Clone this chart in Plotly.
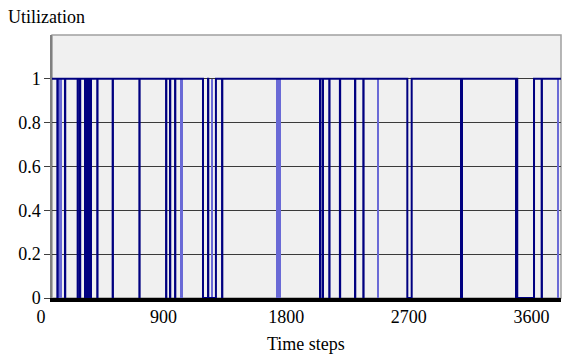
import plotly.graph_objects as go

# ---- data (time steps) ----
t_start, t_end = 81, 3817                      # visible span of the series
x_ticks = [0, 900, 1800, 2700, 3600]
y_ticks = [0, 0.2, 0.4, 0.6, 0.8, 1]
y_ticktext = ["0", "0.2", "0.4", "0.6", "0.8", "1"]

# brief drops of utilization to 0 (start time, 2 steps long)
brief_drops = [120, 176, 269, 286, 413, 526, 722, 918, 947, 984, 1329,
               2048, 2068, 2116, 2194, 2305, 2366, 3675]
drop_len = 2
# longer stretches at 0 (start, end)
zero_spans = [(1189, 1226), (1228, 1284), (2689, 2721), (3496, 3619)]
# dense bursts of switching (start, end)
burst_spans = [(318, 377), (3076, 3100), (3479, 3496)]
# faint (light) switching traces (start, end)
light_spans = [(125, 152), (1020, 1040), (1250, 1260), (1727, 1765),
               (2472, 2482), (3614, 3624), (3792, 3802)]

# ---- build step series ----
intervals = sorted([(t, t + drop_len) for t in brief_drops] + zero_spans)
xs, ys = [t_start], [1]
for s, e in intervals:
    xs += [s, e]
    ys += [0, 1]
xs.append(t_end)
ys.append(1)

NAVY = "#000080"
LIGHT = "#6a6ad6"
FONT = "Liberation Serif, Times New Roman, serif"
FS = 18

fig = go.Figure()

fig.add_trace(go.Bar(
    x=[(a + b) / 2 for a, b in light_spans],
    width=[b - a for a, b in light_spans],
    y=[1] * len(light_spans), base=0,
    marker=dict(color=LIGHT, line=dict(width=0)),
    hoverinfo="skip", showlegend=False))

fig.add_trace(go.Bar(
    x=[(a + b) / 2 for a, b in burst_spans],
    width=[b - a for a, b in burst_spans],
    y=[1] * len(burst_spans), base=0,
    marker=dict(color=NAVY, line=dict(width=0)),
    hoverinfo="skip", showlegend=False))

fig.add_trace(go.Scatter(
    x=xs, y=ys, mode="lines", line=dict(color=NAVY, width=2, shape="hv"),
    hoverinfo="skip", showlegend=False))

# invisible trace carrying the labelled time axis
fig.add_trace(go.Scatter(
    x=[0], y=[0], xaxis="x2", yaxis="y2", mode="markers",
    marker=dict(opacity=0), hoverinfo="skip", showlegend=False))

fig.update_layout(
    width=570, height=357,
    margin=dict(l=41, r=9, t=35, b=59),
    paper_bgcolor="white", plot_bgcolor="rgba(0,0,0,0)",
    barmode="overlay", bargap=0,
    font=dict(family=FONT, size=FS, color="black"),
    xaxis=dict(domain=[t_start / t_end, 1], range=[t_start, t_end],
               showticklabels=False, showgrid=False, zeroline=False,
               showline=True, linecolor="black", linewidth=4, ticks=""),
    xaxis2=dict(domain=[0, 1], range=[0, t_end], anchor="y2",
                tickvals=x_ticks, showline=False, showgrid=False,
                zeroline=False, ticks="outside", ticklen=2,
                tickcolor="rgba(0,0,0,0)",
                tickfont=dict(family=FONT, size=FS)),
    yaxis=dict(domain=[0, 1], range=[0, 1.2], anchor="x",
               tickvals=y_ticks, ticktext=y_ticktext,
               ticks="outside", ticklen=6, tickcolor="#404040",
               tickfont=dict(family=FONT, size=FS),
               showgrid=True, gridcolor="#3a3a3a", gridwidth=1,
               showline=True, linecolor="#808080", linewidth=1.5,
               zeroline=False),
    yaxis2=dict(domain=[0, 1], range=[0, 1.2], anchor="x2", visible=False),
    shapes=[dict(type="rect", xref="x domain", yref="y domain",
                 x0=0, x1=1, y0=0, y1=1, layer="below",
                 fillcolor="#f0f0f0", line=dict(color="#a0a0a0", width=1.5))],
    annotations=[
        dict(text="Utilization", xref="paper", yref="paper", x=-0.068, y=1.07,
             xanchor="left", yanchor="middle", showarrow=False,
             font=dict(family=FONT, size=FS)),
        dict(text="Time steps", xref="paper", yref="paper", x=0.51, y=-0.175,
             xanchor="center", yanchor="middle", showarrow=False,
             font=dict(family=FONT, size=FS)),
    ],
)

fig.write_html("out.html", config={"displayModeBar": False},
               post_script="document.body.style.margin='0px';")
